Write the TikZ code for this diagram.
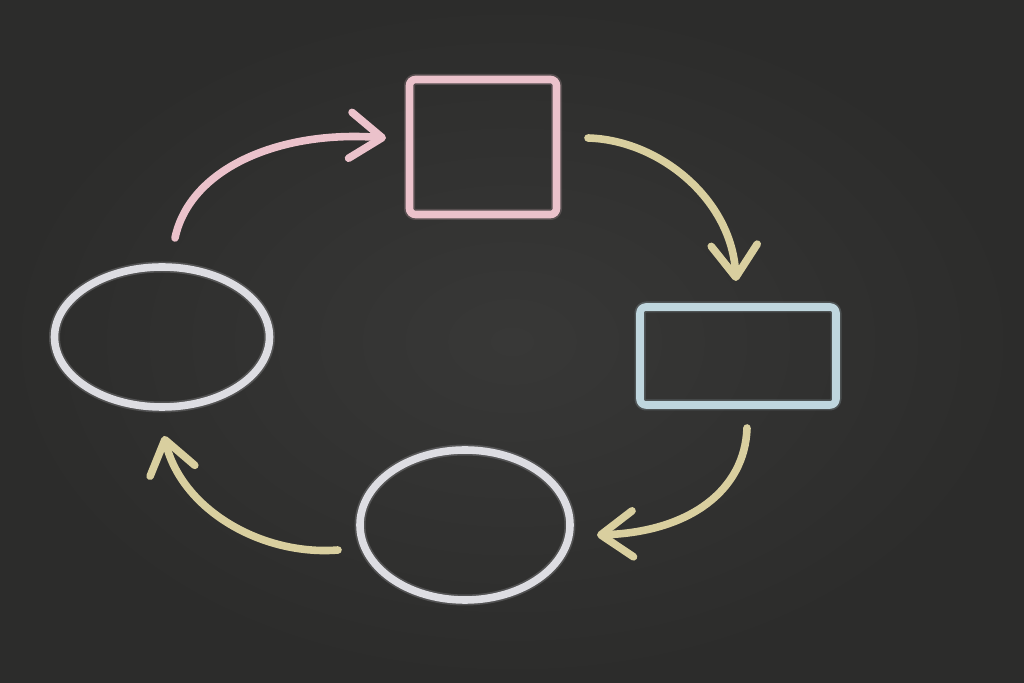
\documentclass[tikz,border=0pt]{standalone}
\usetikzlibrary{arrows.meta,shapes.geometric,decorations.pathmorphing}
\definecolor{board}{HTML}{2C2C2B}
\definecolor{boardc}{HTML}{383837}
\definecolor{chpink}{HTML}{EBC2CB}
\definecolor{chyellow}{HTML}{D9CF9F}
\definecolor{chblue}{HTML}{BFD6DE}
\definecolor{chwhite}{HTML}{DDDDE2}
\tikzset{
  chalk/.style={line width=3.8pt, line cap=round, line join=round},
  glow/.style={line width=5.5pt, opacity=0.2, line cap=round, line join=round},
  rectshape/.style={rectangle, rounded corners=3pt, inner sep=0pt},
  ellshape/.style={ellipse, inner sep=0pt},
  chalkarrow/.style={chalk, -{Straight Barb[length=16pt,width=23pt,line width=3.8pt,round]}},
}
\begin{document}
\begin{tikzpicture}[x=0.5pt,y=-0.5pt]
  \useasboundingbox (0,0) rectangle (1024,683);
  \shade[inner color=boardc, outer color=board] (0,0) rectangle (1024,683);
  % shapes
  \node[rectshape, draw=chpink, glow, minimum width=73.5pt, minimum height=67.5pt] at (483,147) {};
  \node (top) [rectshape, draw=chpink, chalk, minimum width=73.5pt, minimum height=67.5pt] at (483,147) {};
  \node[rectshape, draw=chblue, glow, minimum width=98pt, minimum height=49pt] at (738,356) {};
  \node (right) [rectshape, draw=chblue, chalk, minimum width=98pt, minimum height=49pt] at (738,356) {};
  \node[ellshape, draw=chwhite, glow, minimum width=107.5pt, minimum height=70pt] at (162,337) {};
  \node (left) [ellshape, draw=chwhite, chalk, minimum width=107.5pt, minimum height=70pt] at (162,337) {};
  \node[ellshape, draw=chwhite, glow, minimum width=105pt, minimum height=75pt] at (465,525) {};
  \node (bottom) [ellshape, draw=chwhite, chalk, minimum width=105pt, minimum height=75pt] at (465,525) {};
  % arrow end points
  \coordinate (a1s) at (175,238);
  \coordinate (a1e) at (386,138);
  \coordinate (a2s) at (588,138);
  \coordinate (a2e) at (736,281);
  \coordinate (a3s) at (747,428);
  \coordinate (a3e) at (597,535);
  \coordinate (a4s) at (338,550);
  \coordinate (a4e) at (164,436);
  % arrows
  \draw[chalkarrow, draw=chpink] (a1s) .. controls (190,168) and (280,130) .. (a1e);
  \draw[chalkarrow, draw=chyellow] (a2s) .. controls (660,140) and (732,200) .. (a2e);
  \draw[chalkarrow, draw=chyellow] (a3s) .. controls (745,490) and (690,532) .. (a3e);
  \draw[chalkarrow, draw=chyellow] (a4s) .. controls (262,556) and (182,510) .. (a4e);
\end{tikzpicture}
\end{document}
